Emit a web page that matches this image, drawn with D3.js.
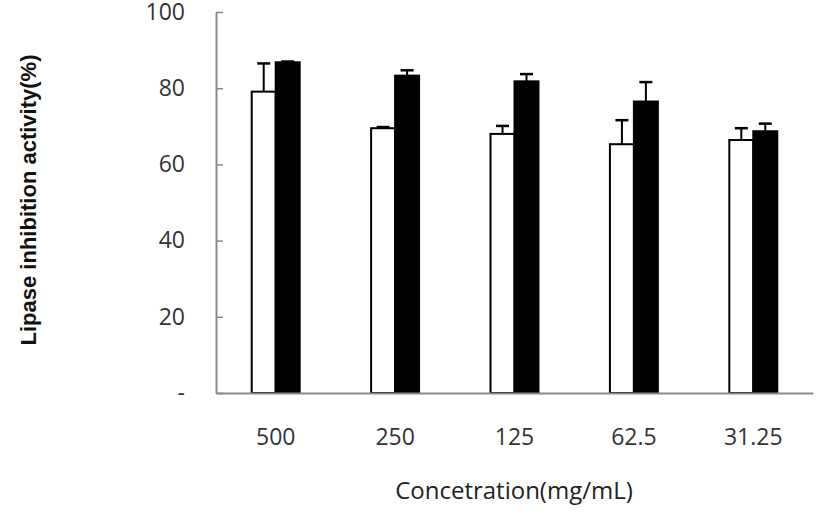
<!DOCTYPE html>
<html>
<head>
<meta charset="utf-8">
<script src="https://cdn.jsdelivr.net/npm/d3@7"></script>
<style>
  body { margin: 0; background: #fff; }
  svg { display: block; }
</style>
</head>
<body>
<script>
// data
var concentrations = ["500", "250", "125", "62.5", "31.25"];
var seriesNames = ["white", "black"];
var whiteValues = [79.1, 69.5, 68.0, 65.3, 66.4];
var whiteErrors = [7.4, 0.3, 2.1, 6.3, 3.1];
var blackValues = [86.8, 83.3, 81.8, 76.5, 68.7];
var blackErrors = [0.2, 1.4, 1.9, 5.1, 2.0];
var yTicks = [0, 20, 40, 60, 80, 100];

var width = 827, height = 519;
var margin = {top: 12, right: 14, bottom: 126, left: 216};

var svg = d3.select("body").append("svg").attr("width", width).attr("height", height);
var g = svg.append("g").attr("transform", "translate(" + margin.left + "," + margin.top + ")");
var w = width - margin.left - margin.right;
var h = height - margin.top - margin.bottom;

var x = d3.scaleBand().domain(concentrations).range([0, w]);
var x1 = d3.scaleBand().domain(seriesNames).range([0, x.bandwidth()]).paddingInner(0).paddingOuter(1.49);
var y = d3.scaleLinear().domain([0, 100]).range([h, 0]);

var rows = [];
concentrations.forEach(function (c, i) {
    rows.push({cat: c, s: "white", v: whiteValues[i], e: whiteErrors[i]});
    rows.push({cat: c, s: "black", v: blackValues[i], e: blackErrors[i]});
});

// axes
var yAxis = g.append("g").call(d3.axisLeft(y).tickValues(yTicks)
    .tickSizeInner(-7).tickSizeOuter(0).tickPadding(31)
    .tickFormat(function (d) { return d == 0 ? "-" : d; }));
yAxis.select(".domain").attr("stroke", "#8a8a8a").attr("stroke-width", 2);
yAxis.selectAll(".tick line").attr("stroke", "#8a8a8a").attr("stroke-width", 1.5);
yAxis.selectAll("text").attr("font-family", "Open Sans, sans-serif").attr("font-size", 23).attr("fill", "#333");

// error bars (up only)
var err = g.append("g").selectAll("g").data(rows).enter().append("g");
err.append("line")
    .attr("x1", function (d) { return x(d.cat) + x1(d.s) + x1.bandwidth() / 2; })
    .attr("x2", function (d) { return x(d.cat) + x1(d.s) + x1.bandwidth() / 2; })
    .attr("y1", function (d) { return y(d.v); })
    .attr("y2", function (d) { return y(d.v + d.e); })
    .attr("stroke", "#000").attr("stroke-width", 2);
err.append("line")
    .attr("x1", function (d) { return x(d.cat) + x1(d.s) + x1.bandwidth() / 2 - 6.5; })
    .attr("x2", function (d) { return x(d.cat) + x1(d.s) + x1.bandwidth() / 2 + 6.5; })
    .attr("y1", function (d) { return y(d.v + d.e); })
    .attr("y2", function (d) { return y(d.v + d.e); })
    .attr("stroke", "#000").attr("stroke-width", 2.5);

// bars
g.append("g").selectAll("rect").data(rows).enter().append("rect")
    .attr("x", function (d) { return x(d.cat) + x1(d.s); })
    .attr("y", function (d) { return y(d.v); })
    .attr("width", x1.bandwidth())
    .attr("height", function (d) { return h - y(d.v); })
    .attr("fill", function (d) { return d.s == "white" ? "#fff" : "#000"; })
    .attr("stroke", "#000").attr("stroke-width", 2);

var xAxis = g.append("g").attr("transform", "translate(0," + h + ")")
    .call(d3.axisBottom(x).tickSize(0).tickPadding(36));
xAxis.select(".domain").attr("stroke", "#8a8a8a").attr("stroke-width", 2);
xAxis.selectAll("text").attr("font-family", "Open Sans, sans-serif").attr("font-size", 23).attr("fill", "#333");

// axis titles
svg.append("text")
    .attr("x", 514).attr("y", 499)
    .attr("text-anchor", "middle")
    .attr("font-family", "Open Sans, sans-serif").attr("font-size", 24).attr("fill", "#222")
    .text("Concetration(mg/mL)");

svg.append("text")
    .attr("transform", "translate(36,200) rotate(-90)")
    .attr("text-anchor", "middle")
    .attr("font-family", "Liberation Sans, Arial, sans-serif").attr("font-weight", "bold")
    .attr("font-size", 22).attr("fill", "#111")
    .text("Lipase inhibition activity(%)");
</script>
</body>
</html>
